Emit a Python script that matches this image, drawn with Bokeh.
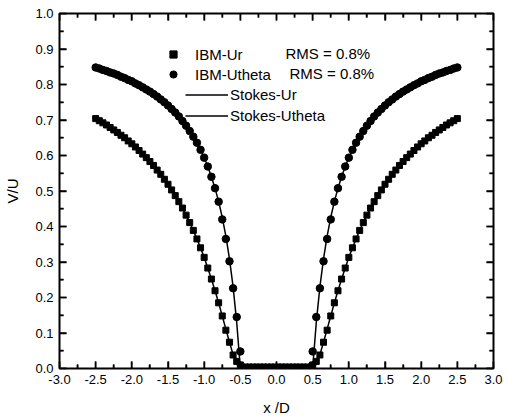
from bokeh.plotting import figure
from bokeh.models import LinearAxis, FixedTicker, PrintfTickFormatter, Range1d, Legend, LegendItem, Label
from bokeh.embed import file_html
from bokeh.resources import INLINE

# ---- data ----
x_over_d = [
    -2.50, -2.45, -2.40, -2.35, -2.30, -2.25, -2.20, -2.15, -2.10, -2.05,
    -2.00, -1.95, -1.90, -1.85, -1.80, -1.75, -1.70, -1.65, -1.60, -1.55,
    -1.50, -1.45, -1.40, -1.35, -1.30, -1.25, -1.20, -1.15, -1.10, -1.05,
    -1.00, -0.95, -0.90, -0.85, -0.80, -0.75, -0.70, -0.65, -0.60, -0.55,
    -0.50, -0.45, -0.40, -0.35, -0.30, -0.25, -0.20, -0.15, -0.10, -0.05,
    0.00, 0.05, 0.10, 0.15, 0.20, 0.25, 0.30, 0.35, 0.40, 0.45,
    0.50, 0.55, 0.60, 0.65, 0.70, 0.75, 0.80, 0.85, 0.90, 0.95,
    1.00, 1.05, 1.10, 1.15, 1.20, 1.25, 1.30, 1.35, 1.40, 1.45,
    1.50, 1.55, 1.60, 1.65, 1.70, 1.75, 1.80, 1.85, 1.90, 1.95,
    2.00, 2.05, 2.10, 2.15, 2.20, 2.25, 2.30, 2.35, 2.40, 2.45, 2.50,
]

stokes_ur = [
    0.704, 0.698, 0.692, 0.686, 0.679, 0.672, 0.665, 0.657, 0.650, 0.641,
    0.633, 0.624, 0.614, 0.604, 0.594, 0.583, 0.572, 0.559, 0.547, 0.533,
    0.519, 0.503, 0.487, 0.470, 0.452, 0.432, 0.411, 0.389, 0.365, 0.340,
    0.313, 0.283, 0.252, 0.219, 0.185, 0.148, 0.111, 0.074, 0.039, 0.012,
    0.000, 0.000, 0.000, 0.000, 0.000, 0.000, 0.000, 0.000, 0.000, 0.000,
    0.000, 0.000, 0.000, 0.000, 0.000, 0.000, 0.000, 0.000, 0.000, 0.000,
    0.000, 0.012, 0.039, 0.074, 0.111, 0.148, 0.185, 0.219, 0.252, 0.283,
    0.313, 0.340, 0.365, 0.389, 0.411, 0.432, 0.452, 0.470, 0.487, 0.503,
    0.519, 0.533, 0.547, 0.559, 0.572, 0.583, 0.594, 0.604, 0.614, 0.624,
    0.633, 0.641, 0.650, 0.657, 0.665, 0.672, 0.679, 0.686, 0.692, 0.698, 0.704,
]

stokes_utheta = [
    0.848, 0.845, 0.841, 0.838, 0.834, 0.831, 0.827, 0.822, 0.818, 0.813,
    0.809, 0.803, 0.798, 0.792, 0.786, 0.780, 0.773, 0.766, 0.758, 0.750,
    0.741, 0.731, 0.721, 0.710, 0.697, 0.684, 0.669, 0.653, 0.636, 0.616,
    0.594, 0.569, 0.540, 0.508, 0.470, 0.426, 0.373, 0.309, 0.230, 0.130,
    0.000, 0.000, 0.000, 0.000, 0.000, 0.000, 0.000, 0.000, 0.000, 0.000,
    0.000, 0.000, 0.000, 0.000, 0.000, 0.000, 0.000, 0.000, 0.000, 0.000,
    0.000, 0.130, 0.230, 0.309, 0.373, 0.426, 0.470, 0.508, 0.540, 0.569,
    0.594, 0.616, 0.636, 0.653, 0.669, 0.684, 0.697, 0.710, 0.721, 0.731,
    0.741, 0.750, 0.758, 0.766, 0.773, 0.780, 0.786, 0.792, 0.798, 0.803,
    0.809, 0.813, 0.818, 0.822, 0.827, 0.831, 0.834, 0.838, 0.841, 0.845, 0.848,
]

ibm_ur = [
    0.704, 0.698, 0.692, 0.686, 0.679, 0.672, 0.665, 0.657, 0.650, 0.641,
    0.633, 0.624, 0.614, 0.604, 0.594, 0.583, 0.572, 0.559, 0.547, 0.533,
    0.519, 0.503, 0.487, 0.470, 0.452, 0.432, 0.411, 0.389, 0.365, 0.340,
    0.313, 0.283, 0.252, 0.219, 0.185, 0.148, 0.108, 0.074, 0.038, 0.020,
    0.010, 0.003, 0.003, 0.003, 0.003, 0.003, 0.003, 0.003, 0.003, 0.003,
    0.003, 0.003, 0.003, 0.003, 0.003, 0.003, 0.003, 0.003, 0.003, 0.003,
    0.010, 0.020, 0.038, 0.074, 0.108, 0.148, 0.185, 0.219, 0.252, 0.283,
    0.313, 0.340, 0.365, 0.389, 0.411, 0.432, 0.452, 0.470, 0.487, 0.503,
    0.519, 0.533, 0.547, 0.559, 0.572, 0.583, 0.594, 0.604, 0.614, 0.624,
    0.633, 0.641, 0.650, 0.657, 0.665, 0.672, 0.679, 0.686, 0.692, 0.698, 0.704,
]

ibm_utheta = [
    0.848, 0.845, 0.841, 0.838, 0.834, 0.831, 0.827, 0.822, 0.818, 0.813,
    0.809, 0.803, 0.798, 0.792, 0.786, 0.780, 0.773, 0.766, 0.758, 0.750,
    0.741, 0.731, 0.721, 0.710, 0.697, 0.684, 0.669, 0.653, 0.636, 0.616,
    0.594, 0.569, 0.540, 0.508, 0.470, 0.420, 0.365, 0.302, 0.226, 0.145,
    0.048, 0.003, 0.003, 0.003, 0.003, 0.003, 0.003, 0.003, 0.003, 0.003,
    0.003, 0.003, 0.003, 0.003, 0.003, 0.003, 0.003, 0.003, 0.003, 0.003,
    0.048, 0.145, 0.226, 0.302, 0.365, 0.420, 0.470, 0.508, 0.540, 0.569,
    0.594, 0.616, 0.636, 0.653, 0.669, 0.684, 0.697, 0.710, 0.721, 0.731,
    0.741, 0.750, 0.758, 0.766, 0.773, 0.780, 0.786, 0.792, 0.798, 0.803,
    0.809, 0.813, 0.818, 0.822, 0.827, 0.831, 0.834, 0.838, 0.841, 0.845, 0.848,
]

x_ticks = [-3.0, -2.5, -2.0, -1.5, -1.0, -0.5, 0.0, 0.5, 1.0, 1.5, 2.0, 2.5, 3.0]
x_minor = [-2.75, -2.25, -1.75, -1.25, -0.75, -0.25, 0.25, 0.75, 1.25, 1.75, 2.25, 2.75]
y_ticks = [0.0, 0.1, 0.2, 0.3, 0.4, 0.5, 0.6, 0.7, 0.8, 0.9, 1.0]
y_minor = [0.05, 0.15, 0.25, 0.35, 0.45, 0.55, 0.65, 0.75, 0.85, 0.95]

rms_labels = ["RMS = 0.8%", "RMS = 0.8%"]

FONT = "Liberation Sans"
X_LO, X_HI, Y_LO, Y_HI = -3.0, 3.0, 0.0, 1.0

p = figure(width=508, height=418, output_backend="svg", toolbar_location=None,
           x_range=Range1d(X_LO, X_HI), y_range=Range1d(Y_LO, Y_HI),
           min_border_left=59, min_border_right=15, min_border_top=13, min_border_bottom=49,
           x_axis_label="x /D", y_axis_label="V/U")
p.grid.visible = False
p.outline_line_color = "black"
p.outline_line_width = 2

p.add_layout(LinearAxis(), "above")
p.add_layout(LinearAxis(), "right")


def style_axis(ax, ticks, minor, show_labels):
    ax.ticker = FixedTicker(ticks=ticks, minor_ticks=minor)
    ax.formatter = PrintfTickFormatter(format="%.1f")
    ax.major_tick_in = 7
    ax.major_tick_out = 0
    ax.minor_tick_in = 4
    ax.minor_tick_out = 0
    ax.major_tick_line_width = 1.5
    ax.minor_tick_line_width = 1.5
    ax.major_tick_line_color = "black"
    ax.minor_tick_line_color = "black"
    ax.major_label_text_font = FONT
    ax.major_label_text_color = "black"
    ax.axis_label_text_font = FONT
    ax.axis_label_text_font_style = "normal"
    ax.axis_label_text_color = "black"
    ax.axis_label_text_font_size = "15px"
    if show_labels:
        ax.major_label_text_font_size = "13px"
        ax.major_label_standoff = 6
    else:
        ax.major_label_text_font_size = "1px"
        ax.major_label_text_alpha = 0
        ax.major_label_standoff = 0


style_axis(p.below[0], x_ticks, x_minor, True)
style_axis(p.above[0], x_ticks, x_minor, False)
style_axis(p.left[0], y_ticks, y_minor, True)
style_axis(p.right[0], y_ticks, y_minor, False)
p.below[0].axis_label_standoff = 12
p.left[0].axis_label_standoff = 11

# inward tick marks on all four sides (drawn at the tick positions)
TICK_Y_MAJ, TICK_Y_MIN = 0.020, 0.011   # vertical tick length, in V/U units
TICK_X_MAJ, TICK_X_MIN = 0.097, 0.056   # horizontal tick length, in x/D units
for ticks, ly in ((x_ticks, TICK_Y_MAJ), (x_minor, TICK_Y_MIN)):
    n = len(ticks)
    p.segment(x0=ticks, y0=[Y_LO] * n, x1=ticks, y1=[Y_LO + ly] * n, line_color="black", line_width=1.5)
    p.segment(x0=ticks, y0=[Y_HI] * n, x1=ticks, y1=[Y_HI - ly] * n, line_color="black", line_width=1.5)
for ticks, lx in ((y_ticks, TICK_X_MAJ), (y_minor, TICK_X_MIN)):
    n = len(ticks)
    p.segment(x0=[X_LO] * n, y0=ticks, x1=[X_LO + lx] * n, y1=ticks, line_color="black", line_width=1.5)
    p.segment(x0=[X_HI] * n, y0=ticks, x1=[X_HI - lx] * n, y1=ticks, line_color="black", line_width=1.5)

l_ur = p.line(x_over_d, stokes_ur, line_color="black", line_width=1.5)
l_ut = p.line(x_over_d, stokes_utheta, line_color="black", line_width=1.5)
s_ur = p.scatter(x_over_d, ibm_ur, marker="square", size=6, color="black")
s_ut = p.scatter(x_over_d, ibm_utheta, marker="circle", size=7.5, color="black")


def make_legend(items, loc, gw, gh, standoff):
    return Legend(items=items, location=loc, border_line_color=None,
                  background_fill_alpha=0, padding=0, margin=0, spacing=0,
                  glyph_width=gw, glyph_height=gh, label_height=gh,
                  label_standoff=standoff, label_text_font=FONT,
                  label_text_font_size="15px", label_text_color="black")


leg1 = make_legend([LegendItem(label="IBM-Ur", renderers=[s_ur]),
                    LegendItem(label="IBM-Utheta", renderers=[s_ut])],
                   (105, 284), 18, 20, 13)
leg2 = make_legend([LegendItem(label="Stokes-Ur", renderers=[l_ur]),
                    LegendItem(label="Stokes-Utheta", renderers=[l_ut])],
                   (126, 242), 43, 21, 2)
p.add_layout(leg1)
p.add_layout(leg2)

for txt, lx, ly in zip(rms_labels, [226, 230], [315, 295]):
    p.add_layout(Label(x=lx, y=ly, x_units="screen", y_units="screen", text=txt,
                       text_font=FONT, text_font_size="15px", text_color="black",
                       text_baseline="middle"))

open("out.html", "w").write(file_html(p, INLINE))
